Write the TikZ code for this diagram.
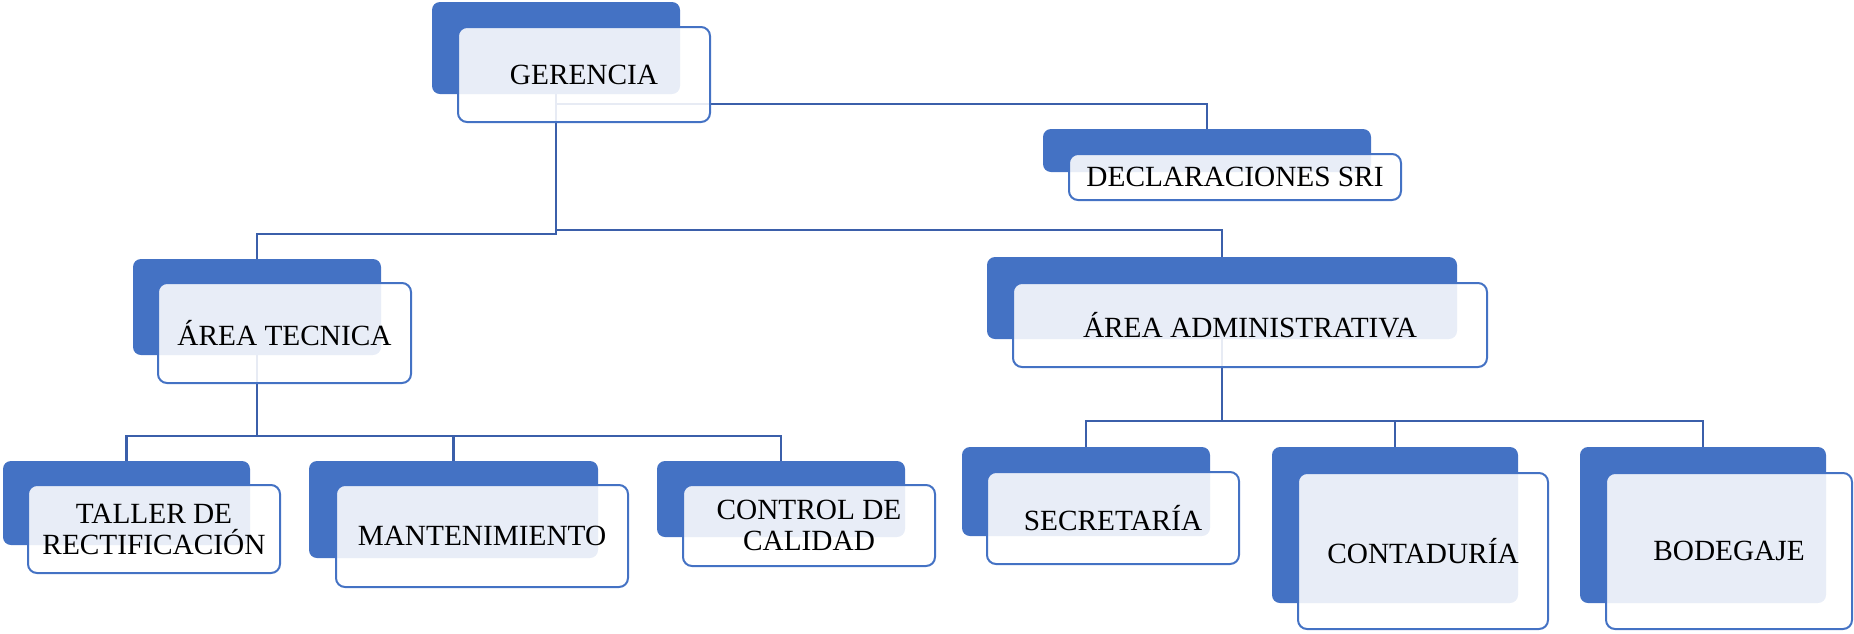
\documentclass[tikz,border=0pt]{standalone}
\usepackage{fontspec}
\setmainfont{Liberation Serif}
\usetikzlibrary{backgrounds}
\definecolor{OrgBlue}{RGB}{68,114,196}
\definecolor{LinkBlue}{RGB}{59,95,170}
\tikzset{
  backbox/.style={rounded corners=8pt,fill=OrgBlue,inner sep=0pt},
  frontbox/.style={rounded corners=9pt,draw=OrgBlue,line width=2pt,
                   fill=white,fill opacity=0.88,text opacity=1,
                   font=\fontsize{29.3}{31}\selectfont,align=center,inner sep=0pt},
  link/.style={LinkBlue,line width=2.5pt},
}

\begin{document}
\begin{tikzpicture}[x=1pt,y=-1pt]
  \useasboundingbox (0,0) rectangle (1854,633);
  % top level
  \node[backbox,minimum width=248pt,minimum height=92pt] (ger-b) at (556,48) {};
  \node[frontbox,minimum width=252pt,minimum height=95pt] (ger) at (584,74.5) {GERENCIA};
  \node[backbox,minimum width=328pt,minimum height=43pt] (sri-b) at (1207,150.5) {};
  \node[frontbox,minimum width=332pt,minimum height=46pt] (sri) at (1235,177) {DECLARACIONES SRI};
  % areas
  \node[backbox,minimum width=248pt,minimum height=96pt] (tec-b) at (257,307) {};
  \node[frontbox,minimum width=253pt,minimum height=100pt] (tec) at (284.5,333) {ÁREA TECNICA};
  \node[backbox,minimum width=470pt,minimum height=82pt] (adm-b) at (1222,298) {};
  \node[frontbox,minimum width=474pt,minimum height=84pt] (adm) at (1250,325) {ÁREA ADMINISTRATIVA};
  % technical units
  \node[backbox,minimum width=247pt,minimum height=84pt] (tal-b) at (126.5,503) {};
  \node[frontbox,minimum width=252pt,minimum height=88pt] (tal) at (154,529) {TALLER DE\\RECTIFICACIÓN};
  \node[backbox,minimum width=289pt,minimum height=97pt] (man-b) at (453.5,509.5) {};
  \node[frontbox,minimum width=292pt,minimum height=102pt] (man) at (482,536) {MANTENIMIENTO};
  \node[backbox,minimum width=248pt,minimum height=76pt] (con-b) at (781,499) {};
  \node[frontbox,minimum width=252pt,minimum height=81pt] (con) at (809,525.5) {CONTROL DE\\CALIDAD};
  % administrative units
  \node[backbox,minimum width=248pt,minimum height=89pt] (sec-b) at (1086,491.5) {};
  \node[frontbox,minimum width=252pt,minimum height=92pt] (sec) at (1113,518) {SECRETARÍA};
  \node[backbox,minimum width=246pt,minimum height=156pt] (cnt-b) at (1395,525) {};
  \node[frontbox,minimum width=250pt,minimum height=156pt] (cnt) at (1423,551) {CONTADURÍA};
  \node[backbox,minimum width=246pt,minimum height=156pt] (bod-b) at (1703,525) {};
  \node[frontbox,minimum width=246pt,minimum height=156pt] (bod) at (1729,551) {BODEGAJE};

  \begin{scope}[on background layer]
    \draw[link] (ger-b.south) -- ++(0,10) -| (sri-b.north);
    \draw[link] (ger-b.south) -- ++(0,140) -| (tec-b.north);
    \draw[link] (ger-b.south) -- ++(0,136) -| (adm-b.north);
    \foreach \n in {tal,man,con}
      \draw[link] (tec-b.south) -- ++(0,81) -| (\n-b.north);
    \foreach \n in {sec,cnt,bod}
      \draw[link] (adm-b.south) -- ++(0,82) -| (\n-b.north);
  \end{scope}
\end{tikzpicture}
\end{document}
